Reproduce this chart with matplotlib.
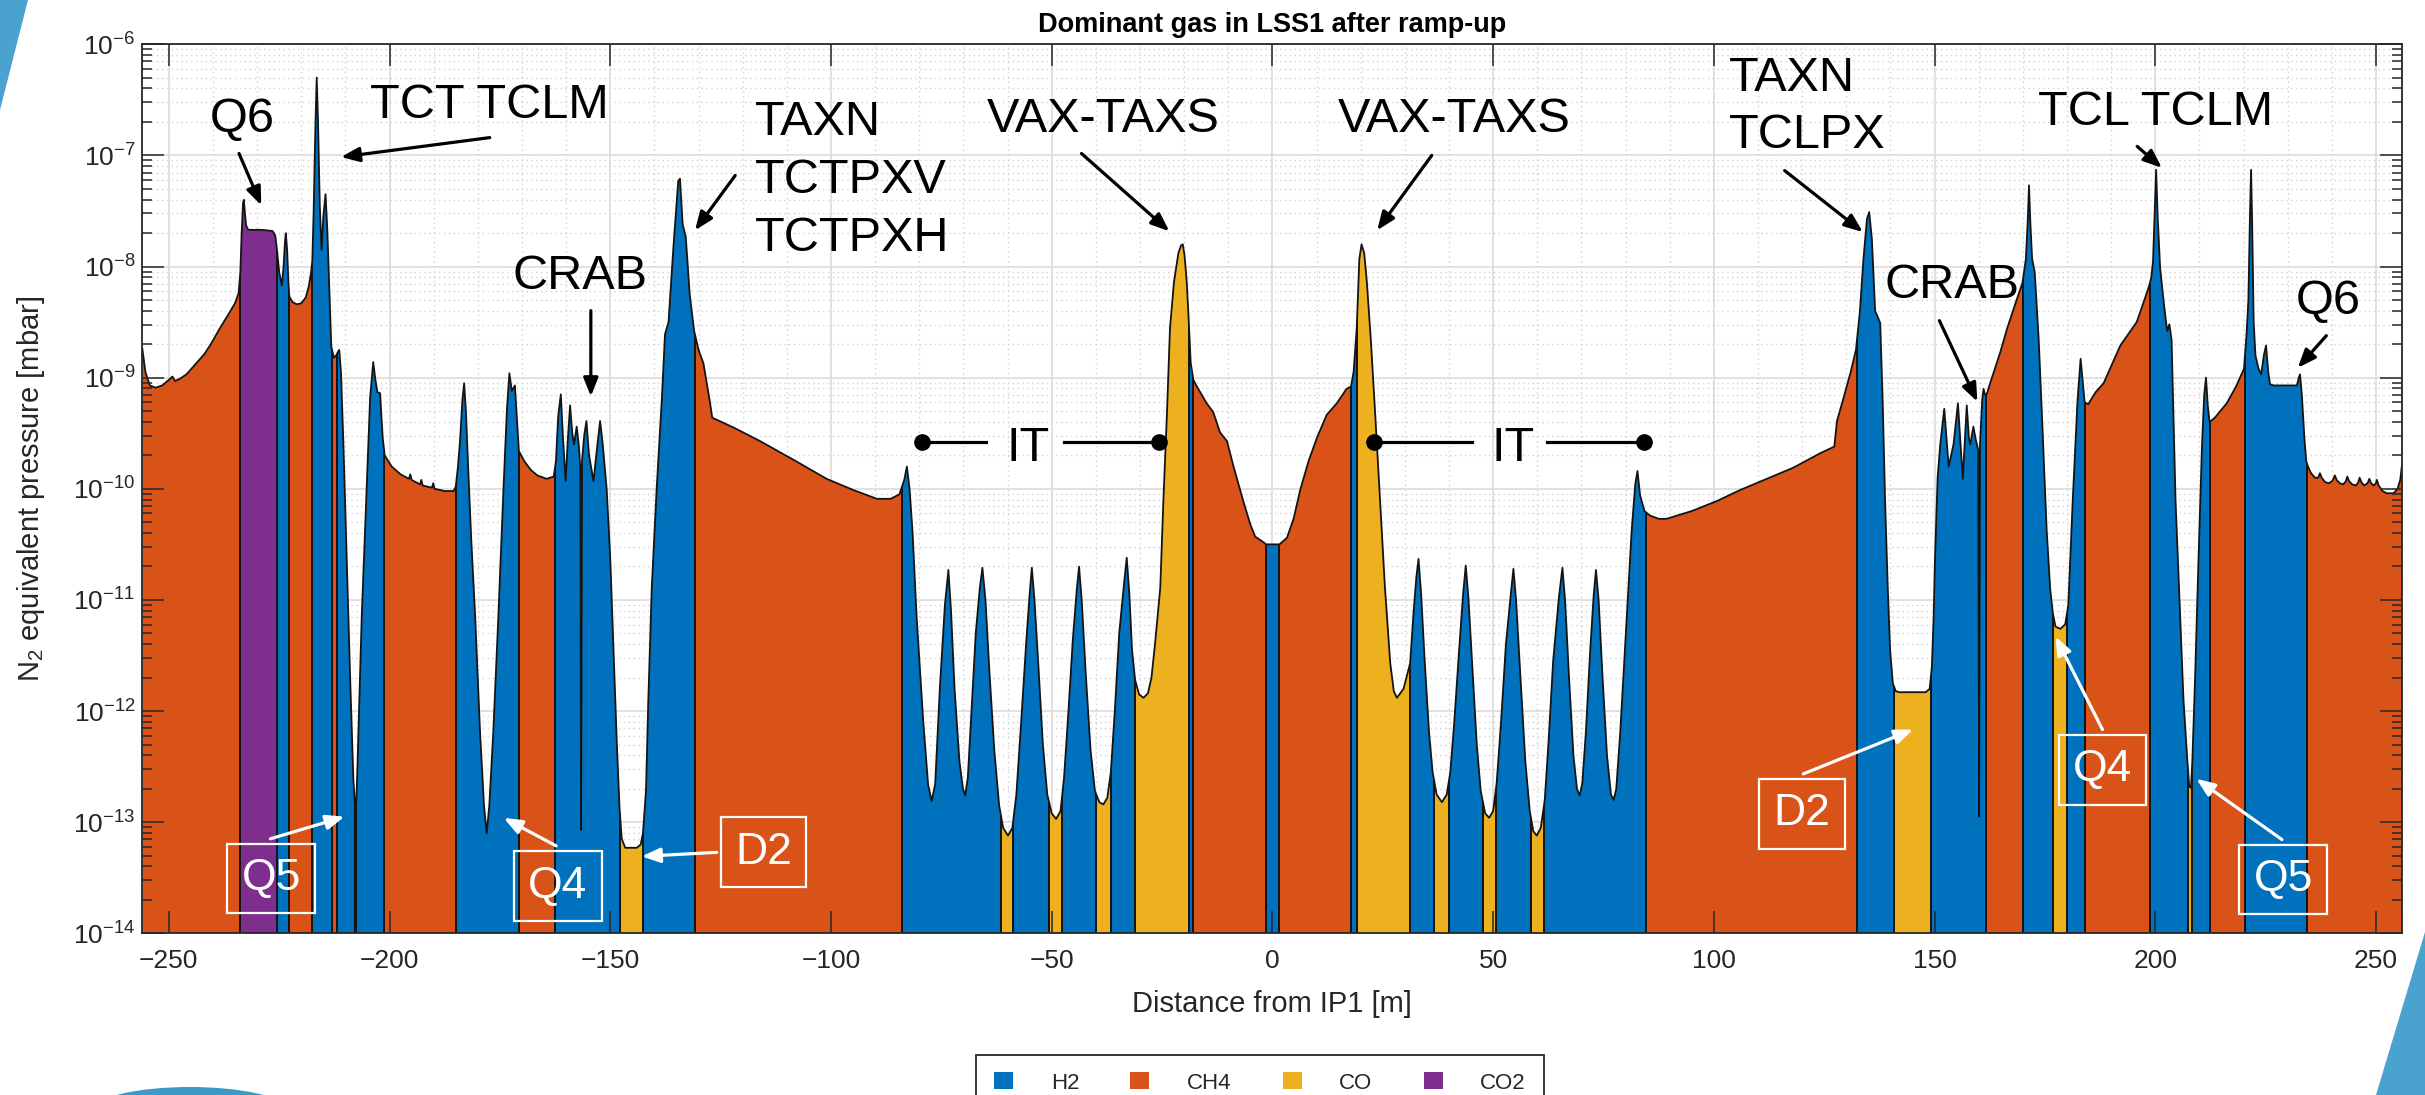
import numpy as np
import matplotlib
matplotlib.use('Agg')
import matplotlib.pyplot as plt
from matplotlib.patches import Polygon, Patch, Ellipse
from matplotlib.ticker import LogLocator, MultipleLocator, NullFormatter

plt.rcParams.update({'font.family': ['Liberation Sans', 'DejaVu Sans'],
                     'mathtext.default': 'regular'})

# pressure profile: (distance from IP1 [m], log10 of N2-equivalent pressure [mbar])
profile = [
    (-256.0, -8.74), (-255.3, -8.95), (-254.3, -9.07), (-253.0, -9.09), (-251.5, -9.07),
    (-250.0, -9.02), (-249.2, -8.99), (-248.6, -9.03), (-247.5, -9.01), (-246.0, -8.97),
    (-244.0, -8.88), (-242.0, -8.79), (-240.5, -8.70), (-238.5, -8.56), (-236.5, -8.43),
    (-235.0, -8.33), (-234.2, -8.24),
    (-233.8, -8.05), (-233.5, -7.70), (-233.2, -7.43), (-233.0, -7.40), (-232.8, -7.50),
    (-232.5, -7.63), (-232.0, -7.67), (-229.0, -7.67), (-226.5, -7.68), (-225.9, -7.72),
    (-225.5, -7.85),
    (-225.0, -8.05), (-224.4, -8.17), (-224.0, -8.00), (-223.7, -7.78), (-223.5, -7.70),
    (-223.2, -7.85), (-222.9, -8.15), (-222.7, -8.27),
    (-222.0, -8.32), (-221.0, -8.34), (-220.0, -8.33), (-219.0, -8.28), (-218.3, -8.18),
    (-217.8, -8.06),
    (-217.5, -7.95), (-217.2, -7.52), (-216.8, -6.74), (-216.5, -6.30), (-216.2, -6.70),
    (-215.8, -7.45), (-215.4, -7.85), (-215.0, -7.55), (-214.5, -7.35), (-214.1, -7.67),
    (-213.6, -8.25), (-213.2, -8.72),
    (-212.6, -8.82), (-212.1, -8.80),
    (-211.7, -8.77), (-211.4, -8.75), (-211.0, -8.95), (-210.45, -9.60), (-209.7, -10.63),
    (-208.95, -11.67), (-208.2, -12.61), (-207.8, -12.87),
    (-207.6, -12.87),
    (-207.3, -12.55), (-207.05, -12.19), (-206.3, -11.15), (-205.3, -10.11), (-204.4, -9.18),
    (-203.7, -8.86), (-203.2, -9.02), (-202.75, -9.13), (-202.15, -9.14), (-201.55, -9.54),
    (-201.1, -9.70),
    (-199.5, -9.80), (-197.5, -9.87), (-195.6, -9.91), (-195.3, -9.87), (-195.0, -9.92),
    (-193.1, -9.96), (-192.8, -9.92), (-192.5, -9.97), (-190.4, -9.99), (-190.1, -9.95),
    (-189.8, -10.00), (-187.5, -10.02), (-185.5, -10.02), (-185.0, -9.98),
    (-184.5, -9.80), (-184.0, -9.55), (-183.5, -9.20), (-183.1, -9.05), (-182.7, -9.30),
    (-182.2, -9.80), (-181.5, -10.45), (-180.6, -11.15), (-179.5, -12.19), (-178.6, -12.85),
    (-178.0, -13.10), (-177.4, -12.85), (-176.5, -12.19), (-175.35, -11.15), (-174.2, -10.01),
    (-173.4, -9.28), (-172.85, -8.96), (-172.3, -9.12), (-171.6, -9.07), (-171.1, -9.40),
    (-170.7, -9.66),
    (-169.5, -9.75), (-168.0, -9.83), (-166.5, -9.88), (-164.4, -9.91), (-162.8, -9.89),
    (-162.3, -9.75), (-161.8, -9.35), (-161.2, -9.15), (-160.7, -9.55), (-160.1, -9.93),
    (-159.6, -9.55), (-159.1, -9.25), (-158.6, -9.50), (-158.2, -9.60), (-157.6, -9.44),
    (-157.1, -9.62), (-156.8, -9.80), (-156.6, -13.07), (-156.4, -9.75), (-155.9, -9.52),
    (-155.4, -9.39), (-154.8, -9.70), (-153.8, -9.93), (-152.9, -9.60), (-152.3, -9.39),
    (-151.7, -9.60), (-150.8, -10.01), (-150.0, -10.63), (-149.3, -11.41), (-148.5, -12.30),
    (-147.9, -12.87),
    (-147.4, -13.15), (-146.6, -13.23), (-144.0, -13.23), (-143.1, -13.20), (-142.6, -13.10),
    (-141.9, -12.71), (-141.4, -11.93), (-140.6, -10.89), (-139.5, -10.01), (-138.3, -9.18),
    (-137.6, -8.61), (-136.8, -8.50), (-135.7, -7.83), (-134.6, -7.23), (-134.2, -7.21),
    (-133.6, -7.62), (-132.9, -7.73), (-132.0, -8.25), (-131.0, -8.58),
    (-130.0, -8.75), (-128.9, -8.87), (-127.5, -9.20), (-126.9, -9.36), (-122.0, -9.45),
    (-116.1, -9.57), (-108.0, -9.75), (-101.0, -9.91), (-95.0, -10.01), (-89.6, -10.09),
    (-86.5, -10.09), (-84.5, -10.05),
    (-83.4, -9.92), (-82.8, -9.80), (-82.2, -10.00), (-81.5, -10.40), (-80.6, -11.15),
    (-79.1, -12.09), (-78.0, -12.66), (-77.2, -12.81), (-76.4, -12.66), (-75.3, -11.77),
    (-74.2, -11.05), (-73.4, -10.73), (-72.8, -11.10), (-72.0, -11.80), (-70.9, -12.45),
    (-70.1, -12.70), (-69.6, -12.76), (-69.0, -12.60), (-68.3, -12.10), (-67.2, -11.30),
    (-66.3, -10.90), (-65.7, -10.71), (-65.0, -11.00), (-64.1, -11.65), (-63.0, -12.35),
    (-61.9, -12.85), (-61.0, -13.05), (-59.9, -13.12), (-58.9, -13.05), (-58.0, -12.75),
    (-57.0, -12.15), (-55.8, -11.40), (-55.0, -10.95), (-54.5, -10.71), (-53.9, -11.00),
    (-53.0, -11.60), (-52.0, -12.30), (-51.0, -12.75), (-50.0, -12.92), (-49.0, -12.97),
    (-48.0, -12.90), (-47.2, -12.60), (-46.2, -12.00), (-45.2, -11.35), (-44.3, -10.90),
    (-43.8, -10.70), (-43.2, -11.00), (-42.3, -11.65), (-41.2, -12.35), (-40.2, -12.72),
    (-39.2, -12.82), (-38.3, -12.84), (-37.4, -12.78), (-36.6, -12.55), (-35.7, -12.00),
    (-34.7, -11.30), (-33.6, -10.85), (-33.0, -10.62), (-32.4, -10.95), (-31.8, -11.45),
    (-31.1, -11.72), (-30.2, -11.85), (-29.2, -11.88), (-28.2, -11.84), (-27.4, -11.70),
    (-26.6, -11.40), (-25.4, -10.89), (-24.7, -10.11), (-23.9, -9.335), (-23.2, -8.556),
    (-22.3, -8.14), (-21.3, -7.88), (-20.7, -7.81), (-20.3, -7.80), (-19.9, -7.90),
    (-19.4, -8.14), (-19.0, -8.45), (-18.5, -8.87), (-17.9, -9.02), (-17.1, -9.08),
    (-14.9, -9.23), (-13.4, -9.31), (-11.9, -9.49), (-10.3, -9.57), (-8.8, -9.80),
    (-6.6, -10.11), (-5.0, -10.32), (-3.9, -10.43), (-2.4, -10.47), (-1.4, -10.50),
    (1.6, -10.50), (3.3, -10.44), (4.8, -10.27), (6.3, -10.01), (8.2, -9.75),
    (10.1, -9.54), (12.3, -9.335), (14.6, -9.23), (16.8, -9.10), (17.8, -9.08),
    (18.4, -8.95), (19.1, -8.556), (19.7, -7.93), (20.2, -7.80), (20.8, -7.88),
    (21.4, -8.14), (22.3, -8.66), (23.3, -9.335), (24.4, -10.11), (25.5, -10.89),
    (26.7, -11.57), (27.5, -11.82), (28.2, -11.88), (29.7, -11.80), (31.2, -11.57),
    (32.0, -11.10), (32.6, -10.80), (33.1, -10.63), (33.7, -10.95), (34.5, -11.55),
    (35.5, -12.20), (36.3, -12.55), (37.2, -12.75), (38.4, -12.82), (39.5, -12.75),
    (40.3, -12.55), (41.2, -12.10), (42.3, -11.45), (43.2, -10.95), (43.8, -10.69),
    (44.4, -10.98), (45.3, -11.60), (46.3, -12.30), (47.2, -12.72), (48.2, -12.92),
    (49.1, -12.96), (50.0, -12.90), (50.8, -12.65), (51.8, -12.10), (52.9, -11.40),
    (54.0, -10.95), (54.6, -10.72), (55.2, -11.00), (56.2, -11.70), (57.3, -12.45),
    (58.3, -12.90), (59.1, -13.08), (59.9, -13.12), (60.8, -13.05), (61.7, -12.80),
    (62.6, -12.25), (63.6, -11.55), (64.9, -10.98), (65.7, -10.71), (66.3, -11.00),
    (67.2, -11.70), (68.2, -12.40), (69.0, -12.70), (69.6, -12.76), (70.2, -12.65),
    (71.0, -12.20), (72.0, -11.45), (72.8, -10.95), (73.3, -10.73), (73.9, -11.00),
    (74.8, -11.70), (75.8, -12.40), (76.7, -12.75), (77.3, -12.80), (77.9, -12.70),
    (78.8, -12.19), (80.3, -11.15), (81.4, -10.37), (82.2, -9.96), (82.7, -9.84),
    (83.3, -10.06), (84.3, -10.20),
    (85.5, -10.24), (87.5, -10.27), (89.3, -10.27), (95.0, -10.20), (100.7, -10.11),
    (106.0, -10.01), (112.0, -9.91), (118.0, -9.81), (124.1, -9.68), (127.3, -9.62),
    (127.9, -9.39), (129.4, -9.18), (131.0, -8.95), (132.2, -8.75),
    (133.1, -8.40), (133.9, -7.93), (134.7, -7.57), (135.2, -7.51), (135.8, -7.75),
    (136.55, -8.40), (137.1, -8.45), (137.7, -8.51), (138.3, -9.28), (138.8, -10.11),
    (139.4, -10.89), (139.95, -11.46), (140.55, -11.75),
    (141.2, -11.82), (142.0, -11.83), (148.0, -11.83), (148.9, -11.80),
    (149.4, -11.60), (149.8, -11.15), (150.1, -10.63), (150.7, -9.90), (151.3, -9.60),
    (152.2, -9.28), (153.2, -9.80), (154.3, -9.60), (155.3, -9.23), (155.9, -9.60),
    (156.4, -9.91), (156.9, -9.55), (157.3, -9.25), (157.8, -9.55), (158.1, -9.60),
    (158.8, -9.44), (159.3, -9.55), (159.9, -9.65), (160.1, -12.95), (160.3, -9.60),
    (160.8, -9.20), (161.1, -9.10), (161.4, -9.15),
    (161.8, -9.15), (163.0, -9.00), (164.9, -8.77), (166.5, -8.55), (168.6, -8.30),
    (169.9, -8.15),
    (170.7, -7.93), (171.1, -7.60), (171.4, -7.27), (171.7, -7.60), (172.1, -7.93),
    (172.7, -8.05), (173.6, -8.66), (174.4, -9.40), (175.4, -10.37), (176.2, -10.90),
    (176.8, -11.12),
    (177.4, -11.24), (178.5, -11.26), (179.6, -11.22),
    (180.3, -11.05), (181.3, -10.11), (182.4, -9.20), (183.1, -8.83), (183.6, -9.05),
    (184.0, -9.22),
    (184.8, -9.24), (186.5, -9.13), (188.3, -9.05), (190.2, -8.88), (192.1, -8.71),
    (195.8, -8.50), (198.5, -8.19),
    (199.1, -8.10), (199.5, -7.95), (199.85, -7.55), (200.2, -7.13), (200.55, -7.55),
    (201.1, -8.01), (202.0, -8.35), (202.7, -8.58), (203.2, -8.52), (203.7, -8.66),
    (204.6, -10.11), (205.65, -11.15), (206.4, -11.90), (207.2, -12.40),
    (207.7, -12.68), (208.1, -12.69),
    (208.4, -12.45), (209.05, -11.67), (209.8, -10.63), (210.6, -9.60), (211.1, -9.15),
    (211.5, -9.00), (211.9, -9.25), (212.3, -9.40),
    (213.5, -9.36), (216.2, -9.23), (218.3, -9.08), (220.1, -8.92),
    (220.7, -8.60), (221.1, -8.30), (221.45, -7.55), (221.7, -7.13), (221.95, -7.60),
    (222.3, -8.50), (222.7, -8.80), (223.4, -8.92), (224.0, -8.97), (224.6, -8.80),
    (225.1, -8.71), (225.6, -8.95), (226.0, -9.06), (226.8, -9.07), (232.1, -9.07),
    (232.5, -9.00), (232.8, -8.97), (233.2, -9.15), (233.8, -9.55), (234.2, -9.75),
    (234.6, -9.80), (235.3, -9.86), (236.2, -9.90), (236.9, -9.90), (237.3, -9.86),
    (237.7, -9.90), (238.5, -9.94), (239.3, -9.95), (240.1, -9.93), (240.7, -9.88),
    (241.1, -9.92), (241.8, -9.95), (242.6, -9.96), (243.2, -9.93), (243.5, -9.89),
    (243.9, -9.93), (244.6, -9.96), (245.5, -9.97), (246.0, -9.94), (246.3, -9.90),
    (246.7, -9.94), (247.3, -9.97), (248.1, -9.95), (248.5, -9.91),
    (248.9, -9.95), (249.5, -9.97), (250.0, -9.95), (250.2, -9.92),
    (250.6, -9.97), (251.5, -10.02), (252.4, -10.04), (254.0, -10.04), (254.9, -10.00),
    (255.5, -9.92), (256.0, -9.75),
]

# dominant gas between consecutive edges [m]
gas_edges = [-256, -233.9, -225.5, -222.7, -217.6, -213.1, -212.0, -207.9, -207.5, -201.2,
             -184.9, -170.6, -162.5, -147.8, -142.5, -130.8, -84.0, -61.5, -58.7, -50.7,
             -47.7, -39.9, -36.6, -31.1, -19.0, -17.9, -1.4, 1.6, 17.8, 19.1,
             31.1, 36.7, 40.1, 47.7, 50.6, 58.6, 61.6, 84.6, 132.5, 140.8,
             149.2, 161.6, 170.1, 176.9, 180.1, 184.1, 198.8, 207.4, 208.3, 212.4,
             220.4, 234.3, 256]
gas_seq = ['CH4', 'CO2', 'H2', 'CH4', 'H2', 'CH4', 'H2', 'CO', 'H2', 'CH4',
           'H2', 'CH4', 'H2', 'CO', 'H2', 'CH4', 'H2', 'CO', 'H2', 'CO',
           'H2', 'CO', 'H2', 'CO', 'H2', 'CH4', 'H2', 'CH4', 'H2', 'CO',
           'H2', 'CO', 'H2', 'CO', 'H2', 'CO', 'H2', 'CH4', 'H2', 'CO',
           'H2', 'CH4', 'H2', 'CO', 'H2', 'CH4', 'H2', 'CO', 'H2', 'CH4',
           'H2', 'CH4']

gas_names = ['H2', 'CH4', 'CO', 'CO2']
gas_colours = {'H2': '#0072BD', 'CH4': '#D95319', 'CO': '#EDB120', 'CO2': '#7E2F8E'}

pos_m, log_p = np.array(profile).T
p_mbar = 10.0 ** log_p
p_floor = 1e-14
ink = '#262626'
edge = '#141414'


def lp(e):
    return 10.0 ** e


fig = plt.figure(figsize=(24.25, 10.95), dpi=100)
rect = [0.0587, 0.1476, 0.9320, 0.8120]
ax = fig.add_axes(rect)
ax.set_yscale('log')
ax.set_xlim(-256, 256)
ax.set_ylim(1e-14, 1e-6)
ax.xaxis.set_major_locator(MultipleLocator(50))
ax.xaxis.set_minor_locator(MultipleLocator(10))
ax.yaxis.set_major_locator(LogLocator(base=10, numticks=20))
ax.yaxis.set_minor_locator(LogLocator(base=10, subs=np.arange(2, 10), numticks=100))
ax.yaxis.set_minor_formatter(NullFormatter())
ax.set_axisbelow(True)
ax.grid(True, which='major', color='#dcdcdc', lw=1.2)
ax.grid(True, which='minor', color='#d2d2d2', lw=1.0, ls=(0, (1, 2.5)))
ax.tick_params(which='both', length=0, labelbottom=False, labelleft=False)
for s in ax.spines.values():
    s.set_visible(False)

# area under the profile, coloured by the dominant gas
outline = list(zip(pos_m, p_mbar)) + [(pos_m[-1], p_floor), (pos_m[0], p_floor)]
area = Polygon(outline, closed=True, transform=ax.transData, facecolor='none', edgecolor='none')
ax.add_patch(area)
for a, b, gas in zip(gas_edges[:-1], gas_edges[1:], gas_seq):
    span = ax.axvspan(a, b, color=gas_colours[gas], lw=0, zorder=1)
    span.set_clip_path(area)
walls = ax.vlines(gas_edges[1:-1], p_floor, 1e-6, colors=edge, lw=1.4, zorder=2)
walls.set_clip_path(area)
ax.plot(pos_m, p_mbar, color=edge, lw=1.3, zorder=3)

# black call-outs
big = 35
black_text = [
    ('Q6', -233.35, -6.789, 'center'),
    ('TCT TCLM', -177.3, -6.663, 'center'),
    ('TAXN', -117.2, -6.818, 'left'),
    ('TCTPXV', -117.2, -7.337, 'left'),
    ('TCTPXH', -117.2, -7.856, 'left'),
    ('CRAB', -156.75, -8.204, 'center'),
    ('VAX-TAXS', -38.37, -6.790, 'center'),
    ('VAX-TAXS', 41.28, -6.790, 'center'),
    ('IT', -55.3, -9.746, 'center'),
    ('IT', 54.6, -9.746, 'center'),
    ('TAXN', 103.5, -6.421, 'left'),
    ('TCLPX', 103.5, -6.935, 'left'),
    ('CRAB', 153.9, -8.284, 'center'),
    ('TCL TCLM', 200.1, -6.726, 'center'),
    ('Q6', 239.3, -8.429, 'center'),
]
for txt, x, e, ha in black_text:
    ax.text(x, lp(e), txt, ha=ha, va='baseline', fontsize=big, color='k', zorder=6)

black_arrows = [
    ((-234.1, -6.983), (-229.06, -7.449)),
    ((-177.3, -6.84), (-211.0, -7.015)),
    ((-121.7, -7.181), (-130.8, -7.674)),
    ((-154.4, -8.397), (-154.4, -9.168)),
    ((-43.25, -6.983), (-23.35, -7.683)),
    ((36.1, -7.0), (23.73, -7.674)),
    ((116.05, -7.137), (133.75, -7.69)),
    ((151.1, -8.487), (159.7, -9.216)),
    ((195.9, -6.919), (201.5, -7.112)),
    ((238.76, -8.622), (232.3, -8.911)),
]
white_arrows = [
    ((-226.98, -13.149), (-210.2, -12.95)),
    ((-162.25, -13.213), (-174.15, -12.961)),
    ((-125.87, -13.271), (-142.86, -13.307)),
    ((120.27, -12.565), (145.15, -12.166)),
    ((188.04, -12.166), (177.4, -11.329)),
    ((228.7, -13.156), (209.3, -12.609)),
]
for arrows, col in ((black_arrows, 'k'), (white_arrows, 'white')):
    for (xt, et), (xh, eh) in arrows:
        ax.annotate('', xy=(xh, lp(eh)), xytext=(xt, lp(et)), zorder=6,
                    arrowprops=dict(arrowstyle='-|>,head_length=0.55,head_width=0.22',
                                    mutation_scale=20, color=col, lw=2.3,
                                    shrinkA=0, shrinkB=0))

# magnet labels in white frames
boxed = [('Q5', -226.84, -13.507), ('Q4', -161.89, -13.574), ('D2', -115.22, -13.269),
         ('D2', 119.97, -12.925), ('Q4', 188.04, -12.529), ('Q5', 228.97, -13.516)]
for txt, x, e in boxed:
    ax.text(x, lp(e), txt, ha='center', va='center', fontsize=32, color='white', zorder=6,
            bbox=dict(boxstyle='square,pad=0.32', facecolor='none', edgecolor='white', lw=1.6))

# inner triplet extents
it_y = lp(-9.58)
for x0, x1, dot in ((-79.27, -64.97, -79.27), (-47.14, -25.69, -25.69),
                    (23.07, 45.18, 23.07), (62.1, 84.2, 84.2)):
    ax.plot([x0, x1], [it_y, it_y], color='k', lw=2.3, zorder=6)
    ax.plot([dot], [it_y], 'o', color='k', ms=11, zorder=6)

# overlay carrying ticks and frame above the filled areas
axt = fig.add_axes(rect, sharex=ax, sharey=ax)
axt.patch.set_visible(False)
axt.grid(False)
axt.tick_params(which='both', direction='in', top=True, right=True, colors=ink,
                labelsize=19, width=1.1)
axt.tick_params(which='major', length=15.5)
axt.tick_params(which='minor', length=7.5)
axt.tick_params(axis='x', which='minor', length=0)
axt.tick_params(axis='x', pad=11)
axt.tick_params(axis='y', pad=5)
for s in axt.spines.values():
    s.set_color(ink)
    s.set_linewidth(1.3)

axt.set_title('Dominant gas in LSS1 after ramp-up', fontsize=19.5, fontweight='bold',
              color='k', pad=9)
axt.set_xlabel('Distance from IP1 [m]', fontsize=21, color=ink, va='center')
axt.xaxis.set_label_coords(0.5, -0.079)
axt.set_ylabel(r'N$_2$ equivalent pressure [mbar]', fontsize=21, color=ink,
               va='center', ha='center')
axt.yaxis.set_label_coords(-0.0492, 0.5)

handles = [Patch(facecolor=gas_colours[g], edgecolor='none') for g in gas_names]
leg = fig.legend(handles, gas_names, loc='upper center', ncol=4,
                 bbox_to_anchor=(1260 / 2425, 1 - 1043.4 / 1095), fontsize=16,
                 handlelength=0.85, handleheight=0.8, handletextpad=1.7,
                 columnspacing=2.3, borderpad=0.8, fancybox=False, framealpha=1)
leg.get_frame().set_edgecolor(ink)
leg.get_frame().set_linewidth(1.3)
for t in leg.get_texts():
    t.set_color(ink)

# slide template corners
blue = '#4aa3cf'
fig.add_artist(Polygon([(0, 1), (28 / 2425, 1), (0, 1 - 110 / 1095)], closed=True,
                       transform=fig.transFigure, facecolor=blue, edgecolor='none'))
fig.add_artist(Polygon([(1, 1 - 932 / 1095), (1, 0), (2376 / 2425, 0)], closed=True,
                       transform=fig.transFigure, facecolor=blue, edgecolor='none'))
fig.add_artist(Ellipse((190 / 2425, -14 / 1095), 190 / 2425, 44 / 1095,
                       transform=fig.transFigure, facecolor='#3d99c6', edgecolor='none'))

fig.savefig('out.png', dpi=100)
